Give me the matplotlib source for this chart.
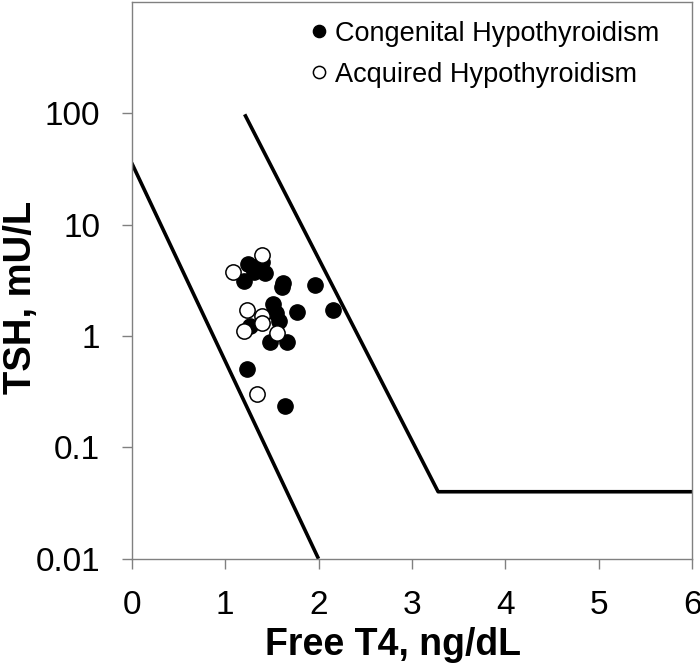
import numpy as np
import matplotlib
matplotlib.use("Agg")
import matplotlib.pyplot as plt

plt.rcParams['font.family'] = ['Liberation Sans', 'DejaVu Sans']

# Congenital hypothyroidism (filled)
cong_ft4 = [1.25, 1.40, 1.31, 1.43, 1.20, 1.62, 1.61, 1.96, 1.51, 1.54, 1.77,
            2.16, 1.58, 1.27, 1.48, 1.66, 1.23, 1.64, 1.36]
cong_tsh = [4.4, 4.6, 3.8, 3.7, 3.1, 3.0, 2.76, 2.87, 1.95, 1.6, 1.64,
            1.7, 1.36, 1.23, 0.88, 0.88, 0.51, 0.235, 4.0]

# Acquired hypothyroidism (open)
acq_ft4 = [1.40, 1.09, 1.24, 1.40, 1.40, 1.20, 1.56, 1.34]
acq_tsh = [5.3, 3.8, 1.72, 1.51, 1.32, 1.11, 1.06, 0.30]

# reference lines
lower_x = [0, 2.0]
lower_y = [36, 0.01]
upper_x = [1.21, 3.28, 6]
upper_y = [98, 0.04, 0.04]

fig = plt.figure(figsize=(7, 6.66), dpi=100)
ax = fig.add_axes([0.188, 0.161, 0.801, 0.836])

ax.plot(lower_x, lower_y, color='black', linewidth=2.6, solid_capstyle='butt')
ax.plot(upper_x, upper_y, color='black', linewidth=2.6, solid_capstyle='butt')

ax.plot(cong_ft4, cong_tsh, 'o', markersize=11, markerfacecolor='black',
        markeredgecolor='black', markeredgewidth=1, linestyle='none',
        label='Congenital Hypothyroidism')
ax.plot(acq_ft4, acq_tsh, 'o', markersize=11, markerfacecolor='white',
        markeredgecolor='black', markeredgewidth=1.1, linestyle='none',
        label='Acquired Hypothyroidism')

ax.set_yscale('log')
ax.set_xlim(0, 6)
ax.set_ylim(0.01, 1000)
ax.set_xticks([0, 1, 2, 3, 4, 5, 6])
ax.set_yticks([0.01, 0.1, 1, 10, 100])
ax.set_yticklabels(['0.01', '0.1', '1', '10', '100'])
ax.yaxis.set_minor_locator(matplotlib.ticker.NullLocator())

for s in ax.spines.values():
    s.set_color('#808080')
    s.set_linewidth(1)
ax.tick_params(axis='both', direction='out', length=7.5, width=1, color='#808080',
               labelsize=24, pad=15)

ax.set_xlabel('Free T4, ng/dL', fontsize=27, fontweight='bold')
ax.set_ylabel('TSH, mU/L', fontsize=27.5, fontweight='bold')
ax.xaxis.set_label_coords(0.466, -0.122)
ax.yaxis.set_label_coords(-0.166, 0.469)

ax.legend(loc='upper right', frameon=False, fontsize=19.5, markerscale=0.8,
          handlelength=0.6, handletextpad=0.3, labelspacing=0.55,
          bbox_to_anchor=(0.985, 1.01))

fig.savefig('out.png', dpi=100)
